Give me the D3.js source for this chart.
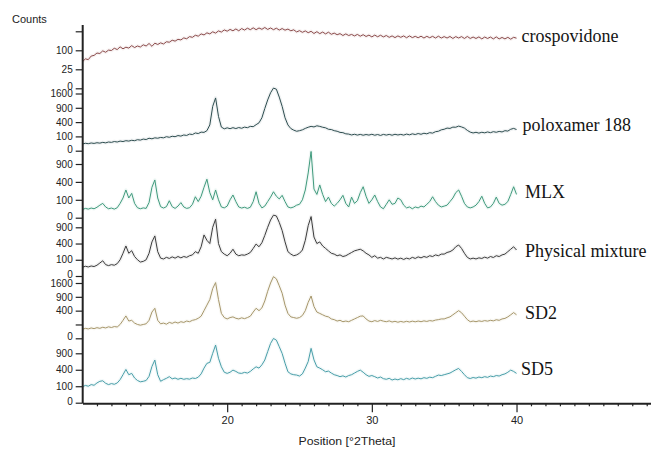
<!DOCTYPE html>
<html><head><meta charset="utf-8">
<script src="https://cdn.jsdelivr.net/npm/d3@7"></script>
<style>
html,body{margin:0;padding:0;background:#fff;}
svg{display:block;}
</style></head><body>
<svg id="chart" width="651" height="449"></svg>
<script>
// ---- DATA ----
const twoTheta = [
10,10.2,10.4,10.6,10.8, 11,11.2,11.4,11.6,11.8, 12,12.2,12.4,12.6,12.8, 13,13.2,13.4,13.6,13.8,
14,14.2,14.4,14.6,14.8, 15,15.2,15.4,15.6,15.8, 16,16.2,16.4,16.6,16.8, 17,17.2,17.4,17.6,17.8,
18,18.2,18.4,18.6,18.8, 19,19.2,19.4,19.6,19.8, 20,20.2,20.4,20.6,20.8, 21,21.2,21.4,21.6,21.8,
22,22.2,22.4,22.6,22.8, 23,23.2,23.4,23.6,23.8, 24,24.2,24.4,24.6,24.8, 25,25.2,25.4,25.6,25.8,
26,26.2,26.4,26.6,26.8, 27,27.2,27.4,27.6,27.8, 28,28.2,28.4,28.6,28.8, 29,29.2,29.4,29.6,29.8,
30,30.2,30.4,30.6,30.8, 31,31.2,31.4,31.6,31.8, 32,32.2,32.4,32.6,32.8, 33,33.2,33.4,33.6,33.8,
34,34.2,34.4,34.6,34.8, 35,35.2,35.4,35.6,35.8, 36,36.2,36.4,36.6,36.8, 37,37.2,37.4,37.6,37.8,
38,38.2,38.4,38.6,38.8, 39,39.2,39.4,39.6,39.8, 40];

const sampleNames = ["crospovidone", "poloxamer 188", "MLX", "Physical mixture", "SD2", "SD5"];

const crospovidone = [
49,60,57,72,75, 86,84,97,90,101, 99,111,104,119,108, 117,112,126,115,124,
118,131,124,139,122, 141,133,143,136,150, 147,160,154,166,162, 176,170,185,180,195,
188,205,197,213,205, 221,211,228,219,236, 226,240,229,244,229, 247,235,250,238,253,
238,252,241,256,240, 252,238,250,235,247, 234,243,229,237,220, 230,217,228,214,225,
208,222,207,219,205, 218,202,211,199,207, 193,205,193,201,190, 201,188,199,186,196,
183,196,184,195,183, 193,180,190,178,190, 180,190,177,190,178, 187,177,188,175,187,
177,187,175,188,175, 185,175,186,172,185, 175,185,172,186,172, 182,172,183,169,182,
172,182,169,183,169, 179,169,180,167,180, 174];

const poloxamer188 = [
22,27,24,29,26, 31,28,34,30,37, 34,41,37,45,41, 49,45,53,49,59,
55,66,61,76,69, 81,76,86,81,96, 88,102,96,112,104, 121,114,135,128,154,
144,169,164,196,324, 961,1362,576,272,234, 256,237,259,240,262, 246,272,259,289,282,
331,380,529,870,1260, 1640,1918,1849,1406,961, 529,324,240,207,185, 196,213,243,269,289,
276,303,289,269,256, 225,219,196,185,164, 159,139,135,121,132, 119,130,117,128,119,
132,117,128,114,130, 119,130,117,132,121, 130,119,135,123,139, 128,144,132,149,139,
159,151,177,185,213, 225,250,243,272,269, 296,276,250,202,169, 154,166,151,166,156,
172,159,177,166,182, 172,196,188,225,243, 219];

const mlx = [
21,27,23,29,25, 34,49,64,36,25, 29,23,31,64,121, 240,121,185,64,31,
25,30,27,72,289, 445,121,38,29,38, 90,38,27,42,71, 36,27,31,56,137,
81,144,289,462,196, 100,240,100,36,30, 42,100,161,81,36, 29,34,27,34,81,
210,64,30,42,81, 132,210,144,110,156, 81,36,30,36,49, 56,100,240,625,1369,
256,169,335,169,81, 132,64,42,64,100, 156,64,36,132,64, 90,196,299,144,64,
100,161,81,36,25, 56,100,56,64,121, 100,49,30,36,25, 36,30,42,36,56,
81,137,81,49,36, 42,49,81,121,196, 240,144,64,36,30, 36,49,81,144,64,
30,36,64,132,64, 49,56,81,169,299, 169];

const physicalMixture = [
29,36,31,38,34, 44,64,88,49,41, 49,44,58,100,196, 342,196,243,144,100,
74,81,100,196,441, 610,225,121,110,132, 117,139,121,144,125, 144,132,156,169,225,
196,324,640,484,400, 900,1225,400,225,182, 156,196,272,182,156, 169,164,182,210,289,
388,324,420,625,900, 1190,1406,1369,1089,784, 441,225,182,156,169, 196,256,484,961,1340,
576,400,441,342,289, 240,196,182,156,169, 144,156,182,210,240, 256,272,240,196,169,
132,156,121,132,110, 132,121,110,125,108, 121,104,121,110,132, 117,139,125,144,132,
156,144,169,156,182, 182,210,225,256,324, 365,289,196,132,110, 121,110,125,117,135,
121,144,130,156,144, 169,182,225,272,324, 256];

const sd2 = [
42,52,46,56,49, 59,52,64,56,69, 61,72,67,100,169, 262,156,169,121,100,
90,100,110,169,361, 471,169,110,121,104, 132,117,139,121,144, 132,156,144,169,182,
210,256,400,576,784, 1296,1624,784,324,225, 196,225,240,210,196, 219,202,225,256,361,
471,400,484,729,1156, 1600,1989,1849,1444,1063, 576,324,240,225,210, 225,272,400,676,936,
529,361,324,289,256, 240,196,182,156,169, 144,156,144,169,196, 225,256,262,196,156,
144,164,149,169,154, 144,159,139,151,135, 149,137,151,139,154, 142,156,144,159,149,
164,156,174,182,196, 196,219,240,289,342, 400,342,256,182,144, 156,144,159,149,164,
154,169,159,180,169, 196,207,240,289,346, 289];

const sd5 = [
94,110,100,121,112, 144,169,177,139,121, 135,125,144,196,289, 408,289,317,225,182,
161,169,182,256,484, 671,289,169,196,219, 250,210,225,202,219, 202,213,204,225,216,
240,306,441,571,600, 900,1225,729,475,342, 317,342,392,361,324, 317,339,324,361,420,
475,441,529,671,961, 1296,1521,1444,1156,894, 576,353,306,289,282, 262,306,441,625,1089,
676,475,441,400,353, 369,324,289,272,250, 266,243,272,289,324, 361,392,342,289,256,
272,250,225,243,213, 202,219,190,207,193, 213,196,219,202,225, 207,222,210,231,219,
240,231,256,282,272, 289,306,324,361,400, 433,361,289,231,216, 234,222,243,231,250,
237,262,250,272,262, 289,306,342,392,361, 317];

const xMajorTicks = [20, 30, 40];
const yTicksCrospovidone = [0, 25, 100, 225];
const yTicksPoloxamer = [0, 100, 400, 900, 1600];
const yTicksMLX = [0, 100, 400, 900];
const yTicksPhysical = [0, 100, 400, 900];
const yTicksSD2 = [0, 100, 400, 900, 1600];
const yTicksSD5 = [0, 100, 400, 900];
const yHiddenLabels = [[225], [], [], [], [100], []];
const yAxisTitle = "Counts";
const xAxisTitle = "Position [°2Theta]";

// ---- LAYOUT / STYLE ----
const svg = d3.select("#chart");
const axisX = 82.7, axisBottomY = 403.3;
const x = d3.scaleLinear().domain([10, 49.33]).range([82.5, 651.5]);

const panels = [
  {values: crospovidone,    ticks: yTicksCrospovidone, top: 225,  yZero: 88.3,  yTopTick: 31.3,  color: "#8a4a4a", lx: 521.5, ly: 41.7},
  {values: poloxamer188,    ticks: yTicksPoloxamer,    top: 1600, yZero: 150.7, yTopTick: 93.5,  color: "#2d4d4f", lx: 522.5, ly: 130.7},
  {values: mlx,             ticks: yTicksMLX,          top: 900,  yZero: 217.7, yTopTick: 164.0, color: "#3f9a7c", lx: 525,   ly: 198.3},
  {values: physicalMixture, ticks: yTicksPhysical,     top: 900,  yZero: 276.0, yTopTick: 227.3, color: "#3c3c3c", lx: 525,   ly: 256.7},
  {values: sd2,             ticks: yTicksSD2,          top: 1600, yZero: 338.3, yTopTick: 283.0, color: "#a6966a", lx: 525,   ly: 319.3},
  {values: sd5,             ticks: yTicksSD5,          top: 900,  yZero: 402.7, yTopTick: 353.3, color: "#479ea8", lx: 521,   ly: 375.0}
];

const tickFont = "'Liberation Sans', Arial, sans-serif";

panels.forEach((p, i) => {
  const y = d3.scaleSqrt().domain([0, p.top]).range([p.yZero, p.yTopTick]);
  const pts = twoTheta.map((t, j) => [t, p.values[j]]);
  const line = d3.line().x(d => x(d[0])).y(d => y(d[1]));
  // faint halo like the scanned original
  svg.append("path").attr("d", line(pts)).attr("fill", "none")
    .attr("stroke", p.color).attr("stroke-opacity", 0.07).attr("stroke-width", 3.5)
    .attr("stroke-linejoin", "round");
  svg.append("path").attr("d", line(pts)).attr("fill", "none")
    .attr("stroke", p.color).attr("stroke-width", 1).attr("stroke-linejoin", "round");

  const hidden = yHiddenLabels[i];
  const ax = d3.axisLeft(y).tickValues(p.ticks).tickSize(7).tickSizeOuter(0).tickPadding(3)
    .tickFormat(v => hidden.includes(v) ? "" : String(v));
  const g = svg.append("g").attr("transform", `translate(${axisX},0)`).call(ax);
  g.select(".domain").remove();
  g.selectAll(".tick line").attr("stroke", "#222").attr("stroke-width", 1.2);
  g.selectAll(".tick text").attr("fill", "#222").style("font-family", tickFont).style("font-size", "10px")
    .attr("dy", v => v === 0 ? "0.15em" : "0.32em");

  svg.append("text").attr("x", p.lx).attr("y", p.ly).text(sampleNames[i])
    .style("font-family", "'Liberation Serif', 'Times New Roman', serif")
    .style("font-size", "18px").attr("fill", "#141414");
});

// vertical axis line
svg.append("line").attr("x1", axisX).attr("x2", axisX).attr("y1", 25).attr("y2", axisBottomY)
  .attr("stroke", "#222").attr("stroke-width", 2);

// x axis: minor + major ticks
const minorTicks = d3.range(11, 50).filter(v => !xMajorTicks.includes(v));
const gMinor = svg.append("g").attr("transform", `translate(0,${axisBottomY})`)
  .call(d3.axisBottom(x).tickValues(minorTicks).tickSize(3).tickSizeOuter(0).tickFormat(""));
gMinor.select(".domain").attr("stroke", "#222").attr("stroke-width", 2);
gMinor.selectAll(".tick line").attr("stroke", "#222").attr("stroke-width", 1.2);
const gMajor = svg.append("g").attr("transform", `translate(0,${axisBottomY})`)
  .call(d3.axisBottom(x).tickValues(xMajorTicks).tickSize(9).tickSizeOuter(0).tickPadding(4));
gMajor.select(".domain").remove();
gMajor.selectAll(".tick line").attr("stroke", "#222").attr("stroke-width", 1.2);
gMajor.selectAll(".tick text").attr("fill", "#222").style("font-family", tickFont).style("font-size", "11px");

// titles
svg.append("text").attr("x", 12).attr("y", 22.7).text(yAxisTitle)
  .style("font-family", tickFont).style("font-size", "11px").attr("fill", "#222");
svg.append("text").attr("x", 347).attr("y", 445).attr("text-anchor", "middle").text(xAxisTitle)
  .attr("textLength", 97).attr("lengthAdjust", "spacingAndGlyphs")
  .style("font-family", tickFont).style("font-size", "11px").attr("fill", "#222");
</script>
</body></html>
